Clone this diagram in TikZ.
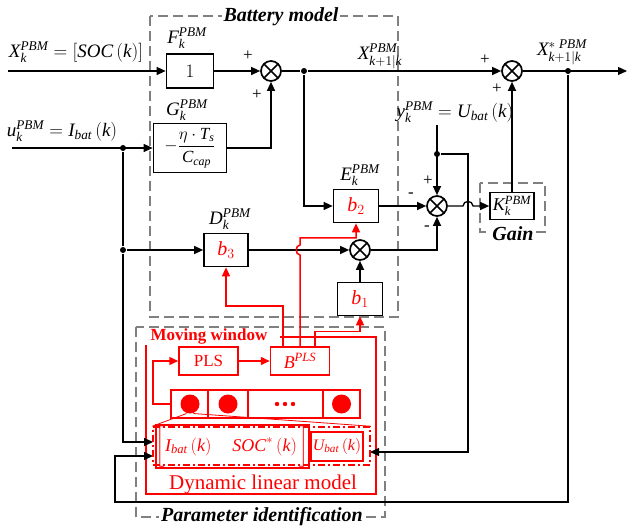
\documentclass[tikz,border=0pt]{standalone}
\usepackage{fix-cm}
\usepackage{amsmath}
\usepackage{fontspec}
\setmainfont{Liberation Serif}
\usetikzlibrary{arrows.meta,calc}
\definecolor{dgray}{RGB}{128,128,128}
\definecolor{pred}{RGB}{255,0,0}
\newcommand{\mi}[1]{\mathit{#1}}
\newcommand{\fs}[1]{\fontsize{#1}{#1}\selectfont}
\begin{document}
\begin{tikzpicture}[x=1pt,y=-1pt,
  line width=1.3pt,
  arr/.style={-{Triangle[length=9pt,width=8pt]}},
  rarr/.style={-{Triangle[length=9pt,width=8pt]}, draw=pred, line width=1.5pt},
  rline/.style={draw=pred, line width=1.5pt},
  blk/.style={draw, line width=1.7pt, inner sep=0pt, fill=white},
  rblk/.style={draw=pred, line width=1.5pt, inner sep=0pt, text=pred},
  sumj/.style={circle, draw, line width=1.7pt, minimum size=20pt, inner sep=0pt,
    path picture={\draw[line width=1.7pt] (path picture bounding box.north west) -- (path picture bounding box.south east)
      (path picture bounding box.north east) -- (path picture bounding box.south west);}},
  dotn/.style={circle, fill, inner sep=0pt, minimum size=6pt},
  gdash/.style={draw=dgray, line width=1.8pt, dash pattern=on 10pt off 5pt},
  lab/.style={font=\fs{19}, inner sep=0pt},
  sgn/.style={font=\fs{17}, inner sep=0pt},
  ttl/.style={font=\fs{20}\bfseries\itshape, fill=white, inner sep=2pt},
]
\useasboundingbox (0,0) rectangle (629,529);

% dashed frames
\draw[gdash] (150,16) rectangle (398,317);
\draw[gdash] (136,327) rectangle (385,517);
\draw[gdash] (480,183) rectangle (545,232);
\node[ttl] (tbm) at (281,17) {Battery model};
\node[ttl] (tpi) at (262,517) {Parameter identification};
\node[ttl] (tg) at (513,234) {Gain};

% red moving window frame
\draw[rline] (280,337) -- (376,337) -- (376,494) -- (146,494) -- (146,345);
\node[text=pred, font=\fs{17}\bfseries, inner sep=0pt] (tmw) at (209,336) {Moving window};

% blocks
\node[blk, minimum width=47pt, minimum height=34pt, font=\fs{19}] (F) at (190,71) {$1$};
\node[blk, minimum width=73pt, minimum height=49pt, font=\fs{17}] (G) at (190,148)
  {$-\dfrac{\eta\cdot\mi{T}_{\mi{s}}}{\mi{C}_{\mi{cap}}}$};
\node[blk, minimum width=44pt, minimum height=33pt, text=pred, font=\fs{20}] (b3) at (226,250) {$\mi{b}_{3}$};
\node[blk, minimum width=45pt, minimum height=33pt, text=pred, font=\fs{20}] (b2) at (356,206) {$\mi{b}_{2}$};
\node[blk, minimum width=45pt, minimum height=33pt, text=pred, font=\fs{20}] (b1) at (360,299) {$\mi{b}_{1}$};
\node[blk, minimum width=44pt, minimum height=27pt, font=\fs{18}] (K) at (512,206) {$\mi{K}_{\mi{k}}^{\mi{PBM}}$};

% summing junctions
\node[sumj] (s1) at (271,71) {};
\node[sumj] (s2) at (512,71) {};
\node[sumj] (s3) at (360,250) {};
\node[sumj] (s4) at (437,206) {};

% dots
\node[dotn] (d1) at (123,148) {};
\node[dotn] (d2) at (123,250) {};
\node[dotn] (d3) at (304,71) {};
\node[dotn] (d4) at (568,71) {};
\node[dotn] (d5) at (437,154) {};

% labels
\node[lab] (lx) at (76,52) {$\mi{X}_{\mi{k}}^{\mi{PBM}}=\left[\mi{SOC}\left(\mi{k}\right)\right]$};
\node[lab] (lu) at (62,131) {$\mi{u}_{\mi{k}}^{\mi{PBM}}=\mi{I}_{\mi{bat}}\left(\mi{k}\right)$};
\node[lab] (lf) at (187,38) {$\mi{F}_{\mi{k}}^{\mi{PBM}}$};
\node[lab] (lg) at (187,110) {$\mi{G}_{\mi{k}}^{\mi{PBM}}$};
\node[lab] (lx1) at (380,56) {$\mi{X}_{\mi{k}+1|\mi{k}}^{\mi{PBM}}$};
\node[lab] (lxs) at (562,52) {$\mi{X}_{\mi{k}+1|\mi{k}}^{*\;\mi{PBM}}$};
\node[lab] (ly) at (455,112) {$\mi{y}_{\mi{k}}^{\mi{PBM}}=\mi{U}_{\mi{bat}}\left(\mi{k}\right)$};
\node[lab] (le) at (360,175) {$\mi{E}_{\mi{k}}^{\mi{PBM}}$};
\node[lab] (ld) at (230,219) {$\mi{D}_{\mi{k}}^{\mi{PBM}}$};

% signs
\node[sgn] (p1) at (248,56) {+};
\node[sgn] (p2) at (257,95) {+};
\node[sgn] (p3) at (485,60) {+};
\node[sgn] (p4) at (497,89) {+};
\node[sgn] (p5) at (428,181) {+};
\node[sgn] (m1) at (411,195) {-};
\node[sgn] (m2) at (427,228) {-};

% free coordinates
\coordinate (xin) at (8,71);
\coordinate (uin) at (12,148);
\coordinate (xout) at (627,71);
\coordinate (yin) at (437,125);
\coordinate (yr) at (468,154);
\coordinate (cbl) at (115,502);
\coordinate (in1) at (153,442);
\coordinate (in2) at (153,456);
\coordinate (in3) at (370,452);

% black connectors
\draw[arr] (xin) -- (F.west);
\draw[arr] (F.east) -- (s1.west);
\draw[arr] (G.east) -| (s1.south);
\draw[arr] (uin) -- (G.west);
\draw (d1) -- (d2);
\draw[arr] (d2) -- (b3.west);
\draw[arr] (d2) |- (in1);
\draw (s1.east) -- (d3);
\draw[arr] (d3) -- (s2.west);
\draw[arr] (s2.east) -- (xout);
\draw[arr] (d3) |- (b2.west);
\draw[arr] (b2.east) -- (s4.west);
\draw[arr] (b3.east) -- (s3.west);
\draw[arr] (b1.north) -- (s3.south);
\draw[arr] (s3.east) -| (s4.south);
\draw[arr] (yin) -- (s4.north);
\draw[arr] (d5) -- (yr) |- (in3);
\draw[arr] (s4.east) -- (463,206) .. controls (463,200) and (473,200) .. (473,206) -- (K.west);
\draw[arr] (K.north) -- (s2.south);
\draw[arr] (d4) |- (cbl) |- (in2);

% parameter identification internals
\node[rblk, minimum width=59pt, minimum height=28pt, font=\fs{17}] (PLS) at (208.5,361) {PLS};
\node[rblk, minimum width=59pt, minimum height=28pt, font=\fs{18}] (BP) at (300,361) {$\mi{B}^{\mi{PLS}}$};
\node[rblk, minimum width=189pt, minimum height=28pt] (cells) at (265.5,404) {};
\draw[rline] (208,390) -- (208,418) (248,390) -- (248,418) (323,390) -- (323,418);
\node[circle, fill=pred, minimum size=19pt, inner sep=0pt] (c1) at (190,404) {};
\node[circle, fill=pred, minimum size=19pt, inner sep=0pt] (c2) at (228,404) {};
\node[circle, fill=pred, minimum size=19pt, inner sep=0pt] (c3) at (341.5,404) {};
\fill[pred] (277,404) circle (2.2) (285,404) circle (2.2) (293,404) circle (2.2);
\node[draw=pred, line width=1.5pt, dash pattern=on 7pt off 3pt on 2pt off 3pt,
  minimum width=217pt, minimum height=38pt, inner sep=0pt] (dlm) at (261.5,446) {};
\node[rblk, minimum width=151pt, minimum height=29pt, font=\fs{18}] (ib1) at (232.5,446.5)
  {$\bigg[\mi{I}_{\mi{bat}}\left(\mi{k}\right)\quad\mi{SOC}^{*}\left(\mi{k}\right)\bigg]$};
\node[rblk, minimum width=52pt, minimum height=29pt, font=\fs{16}] (ib2) at (337,446.5)
  {$\mi{U}_{\mi{bat}}\left(\mi{k}\right)$};
\draw[draw=pred, line width=0.8pt] (c1.250) -- (dlm.north west);
\draw[draw=pred, line width=0.8pt] (c1.290) -- (dlm.north east);
\node[text=pred, font=\fs{21}, inner sep=0pt] (tdlm) at (263,484) {Dynamic linear model};

% red connectors
\draw[rarr] (PLS.east) -- (BP.west);
\coordinate (rl) at (153,404);
\draw[rarr] (cells.west) -- (rl) |- (PLS.west);
\draw[rarr] ($(BP.north)+(-17,0)$) -- ++(0,-40) -| (b3.south);
\draw[rarr] (BP.north) -- (300,255) .. controls (295,255) and (295,245) .. (300,245) -- (300,238) -| (b2.south);
\draw[rarr] ($(BP.north)+(15,0)$) -- ++(0,-15) -| (b1.south);
\end{tikzpicture}
\end{document}
